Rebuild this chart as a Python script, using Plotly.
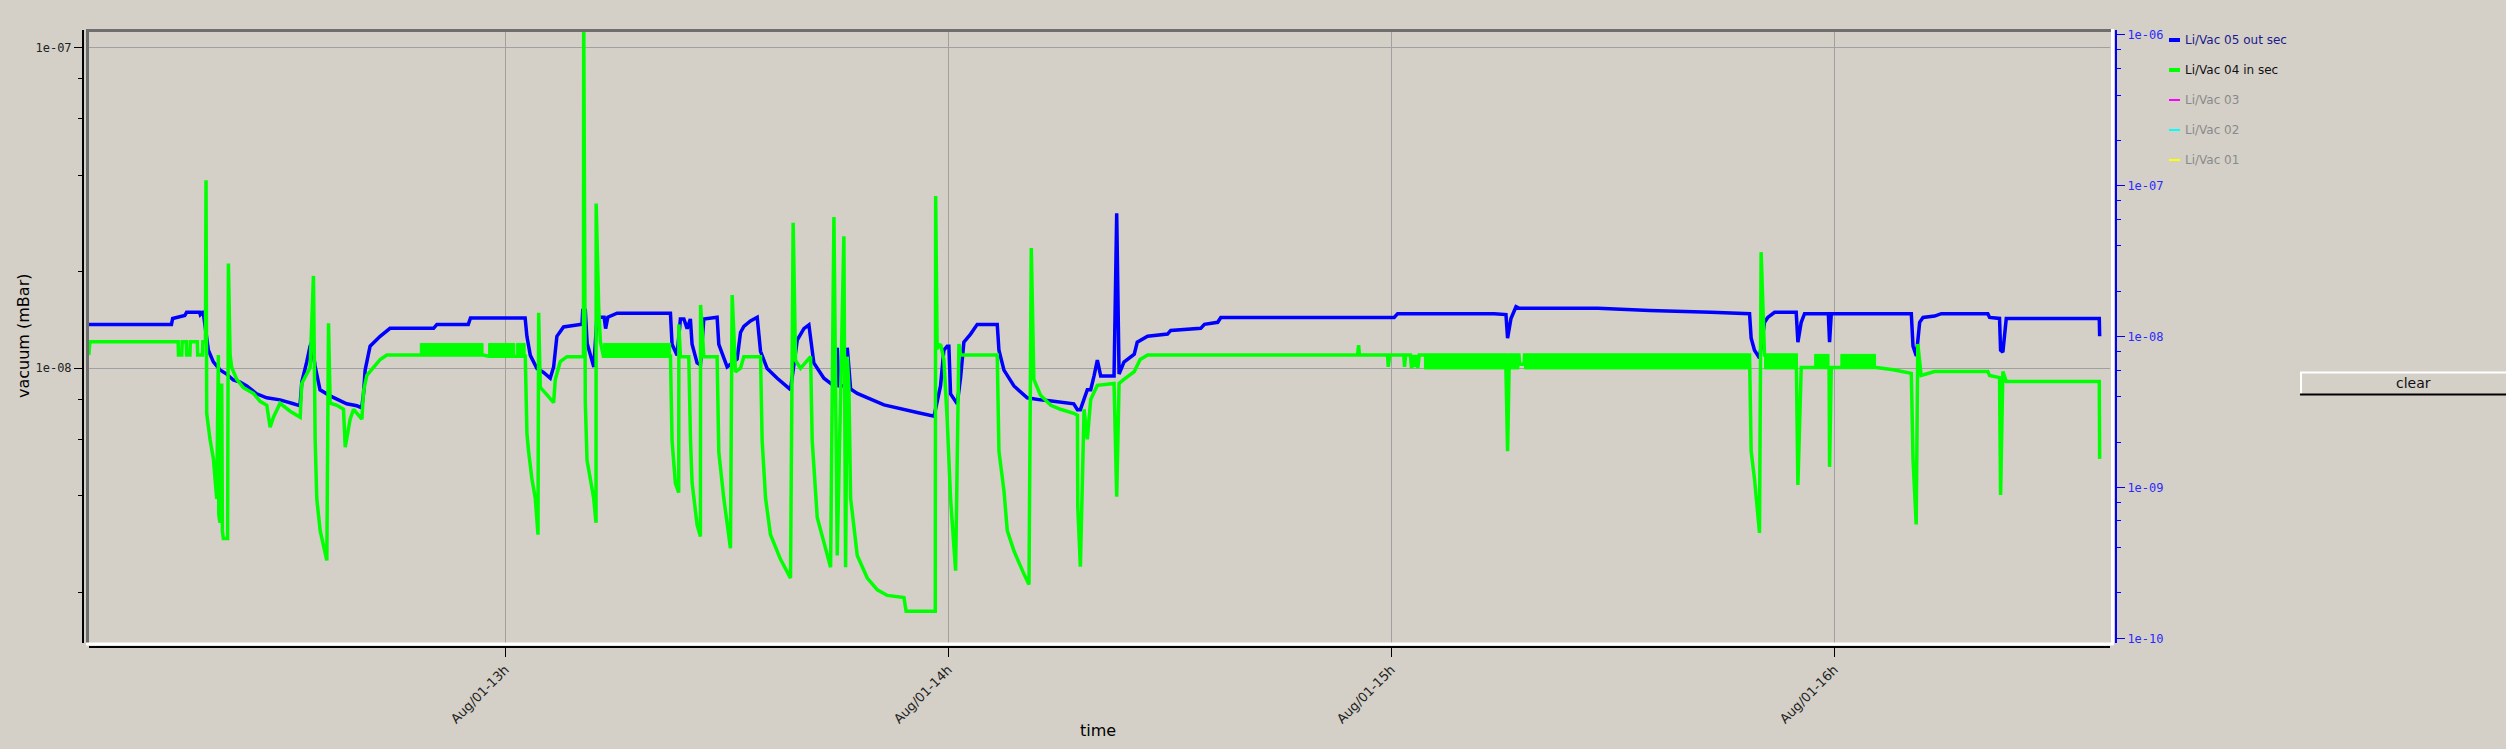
import plotly.graph_objects as go
import pandas as pd

# ---------------- data (time in minutes after 12:00, pressure in 1e-9 mbar) ----------------
base_time = "2011-08-01 12:00:00"

# Li/Vac 05 out sec (blue, right axis)
blue_pts = [
    (3.6, 12.06), (14.8, 12.06), (14.96, 13.2), (16.6, 13.8), (16.85, 14.5), (18.6, 14.5),
    (18.7, 14.0), (19.0, 14.5), (19.1, 14.5), (19.8, 8.13), (20.47, 6.8), (21.38, 6.02),
    (22.27, 5.65), (23.18, 5.16), (24.09, 5.0), (25.0, 4.71), (26.34, 4.18), (27.7, 3.93),
    (29.5, 3.81), (31.32, 3.59), (32.21, 3.48), (32.45, 5.0), (33.12, 6.8), (33.57, 8.64),
    (33.79, 9.18), (34.25, 6.38), (34.92, 4.44), (36.28, 4.05), (38.53, 3.59), (39.9, 3.48),
    (40.57, 3.38), (40.81, 4.18), (41.03, 6.0), (41.7, 8.64), (43.06, 10.05), (44.4, 11.35),
    (50.3, 11.35), (50.75, 12.06), (55.0, 12.06), (55.3, 13.3), (62.7, 13.3), (62.94, 10.05),
    (63.4, 7.52), (64.3, 6.14), (65.2, 5.79), (66.1, 5.3), (66.56, 6.3), (67.0, 10.05),
    (67.9, 11.6), (70.4, 12.1), (70.5, 14.9), (70.85, 14.9), (71.1, 9.0), (72.0, 6.3),
    (72.43, 13.45), (73.4, 13.45), (73.6, 11.3), (73.9, 13.45), (75.15, 14.3), (82.38, 14.3),
    (82.6, 8.9), (83.28, 7.52), (83.73, 13.1), (84.2, 13.1), (84.64, 11.3), (85.08, 13.1),
    (85.31, 8.9), (85.99, 6.7), (86.44, 6.5), (86.9, 13.1), (88.7, 13.45), (88.93, 8.9),
    (90.06, 6.3), (91.41, 7.1), (91.87, 10.65), (92.32, 11.7), (93.22, 12.7), (94.13, 13.45),
    (94.58, 8.0), (95.48, 6.14), (96.84, 5.3), (98.64, 4.45), (99.55, 9.48), (100.45, 11.3),
    (101.13, 11.97), (101.8, 6.7), (103.16, 5.3), (104.52, 4.72), (104.97, 8.44), (105.2, 4.72),
    (106.1, 4.72), (106.33, 8.44), (106.78, 4.5), (107.68, 4.2), (111.3, 3.53), (115.8, 3.14),
    (118.08, 2.97), (118.96, 4.71), (119.41, 8.13), (119.86, 8.64), (120.09, 8.64), (120.32, 4.17),
    (121.22, 3.59), (121.67, 5.32), (122.12, 9.18), (123.03, 10.4), (123.93, 12.06), (126.64, 12.06),
    (126.87, 8.13), (127.55, 6.0), (128.9, 4.71), (130.7, 3.93), (132.5, 3.81), (134.0, 3.75),
    (137.0, 3.59), (137.5, 3.28), (137.9, 3.28), (138.84, 4.45), (139.3, 4.45), (139.75, 5.49),
    (140.2, 7.0), (140.65, 5.49), (142.46, 5.49), (142.82, 65.8), (143.14, 5.65), (143.8, 6.78),
    (145.2, 7.65), (145.6, 9.18), (147.0, 10.05), (149.7, 10.4), (150.14, 11.0), (154.2, 11.35),
    (154.7, 12.06), (156.5, 12.45), (156.92, 13.4), (180.4, 13.4), (180.87, 14.2), (193.96, 14.2),
    (195.54, 14.0), (195.76, 9.76), (196.22, 13.2), (196.9, 15.8), (197.35, 15.4), (208.0, 15.4),
    (215.0, 14.9), (223.3, 14.5), (228.53, 14.2), (228.75, 9.76), (229.2, 8.13), (229.88, 7.2),
    (230.56, 12.45), (231.0, 13.4), (231.92, 14.5), (234.85, 14.5), (235.08, 9.18), (235.53, 12.45),
    (235.98, 14.2), (239.2, 14.2), (239.37, 9.18), (239.6, 14.2), (250.44, 14.2), (250.67, 8.64),
    (251.12, 7.44), (251.57, 12.45), (252.03, 13.4), (253.6, 13.7), (254.5, 14.2), (260.8, 14.2),
    (261.04, 13.4), (262.39, 13.2), (262.53, 8.13), (262.84, 7.9), (263.3, 13.2), (275.9, 13.2),
    (275.95, 10.05),
]

# Li/Vac 04 in sec (green, left axis)
green_pts = [
    (3.6, 11.0), (3.75, 12.1), (15.7, 12.1), (15.75, 11.0), (16.2, 11.0), (16.25, 12.1),
    (16.8, 12.1), (16.85, 11.0), (17.3, 11.0), (17.35, 12.1), (18.3, 12.1), (18.35, 11.0),
    (19.0, 11.0), (19.05, 12.1), (19.4, 12.1), (19.48, 38.5), (19.57, 7.24), (20.02, 6.01),
    (20.48, 5.22), (20.7, 4.52), (20.93, 3.92), (21.15, 11.0), (21.2, 3.5), (21.38, 3.3),
    (21.6, 8.97), (21.7, 3.1), (21.83, 2.95), (22.4, 2.95), (22.51, 21.2), (22.74, 11.0),
    (22.96, 10.06), (23.64, 9.23), (24.54, 8.7), (25.9, 8.35), (26.8, 7.89), (27.71, 7.67),
    (28.16, 6.55), (28.61, 7.04), (29.51, 7.78), (30.87, 7.35), (32.23, 7.04), (32.45, 8.97),
    (33.58, 10.06), (34.03, 19.4), (34.26, 6.0), (34.48, 3.92), (34.94, 3.12), (35.84, 2.52),
    (36.07, 13.8), (36.29, 7.78), (37.2, 7.67), (38.1, 7.45), (38.33, 5.68), (39.0, 6.94),
    (39.46, 7.45), (40.59, 6.94), (40.81, 8.48), (41.26, 9.5), (42.17, 10.06), (43.07, 10.65),
    (43.97, 11.0), (48.49, 11.0), (57.0, 11.0), (57.8, 10.9), (62.72, 10.9),
    (62.94, 6.28), (63.17, 5.5), (63.62, 4.52), (64.07, 3.94), (64.44, 3.03), (64.53, 14.9),
    (64.75, 8.72), (65.66, 8.26), (66.56, 7.82), (66.78, 9.22), (67.46, 10.5), (68.37, 10.87),
    (70.6, 10.87), (70.63, 130.0), (70.85, 7.82), (71.08, 5.18), (71.53, 4.52), (71.98, 3.94),
    (72.3, 3.3), (72.32, 32.6), (72.66, 15.5), (72.89, 12.1), (73.3, 10.9), (82.38, 10.9),
    (82.6, 5.94), (83.05, 4.39), (83.5, 4.1), (83.52, 13.7), (83.73, 10.87), (84.86, 10.87),
    (85.1, 5.94), (85.31, 4.4), (85.99, 3.25), (86.44, 2.99), (86.46, 15.75), (86.9, 10.87),
    (88.7, 10.87), (88.93, 5.48), (89.6, 3.94), (90.51, 2.75), (90.74, 16.9), (91.19, 9.74),
    (91.87, 10.0), (92.32, 10.87), (94.58, 10.87), (94.8, 5.94), (95.26, 3.94), (95.93, 3.03),
    (97.29, 2.54), (98.64, 2.22), (99.0, 28.4), (99.32, 10.57), (100.0, 10.0), (101.36, 10.87),
    (101.58, 5.94), (102.26, 3.43), (104.07, 2.4), (104.52, 29.6), (104.97, 2.61), (105.87, 25.8),
    (106.1, 2.4), (106.33, 10.87), (106.55, 8.72), (106.78, 3.94), (107.68, 2.61), (109.04, 2.22),
    (110.4, 2.04), (111.75, 1.96), (114.0, 1.93), (114.3, 1.75), (118.25, 1.75), (118.3, 34.4),
    (118.5, 11.5), (118.96, 11.9), (119.41, 10.65), (119.86, 6.94), (120.32, 3.92), (121.0, 2.34),
    (121.45, 11.9), (121.67, 11.0), (126.64, 11.0), (126.87, 5.52), (127.55, 4.15), (128.0, 3.12),
    (128.9, 2.7), (130.2, 2.3), (130.94, 2.12), (131.25, 23.7), (131.6, 9.23), (132.5, 8.24),
    (133.9, 7.67), (135.2, 7.45), (137.0, 7.24), (137.5, 7.14), (137.55, 3.7), (137.9, 2.41),
    (138.4, 7.45), (138.84, 6.01), (139.3, 8.0), (140.2, 8.85), (142.46, 8.97), (142.82, 3.98),
    (143.14, 8.97), (143.8, 9.23), (145.2, 9.77), (146.0, 10.65), (147.0, 11.0), (175.45, 11.0),
    (175.58, 11.8), (175.7, 11.0), (179.5, 11.0), (179.6, 10.1), (179.8, 11.0), (181.7, 11.0),
    (181.8, 10.1), (181.95, 11.0), (182.6, 11.0), (182.75, 10.0), (183.0, 11.0), (183.2, 10.1),
    (183.45, 11.0), (183.6, 10.0), (183.8, 11.0), (195.5, 11.0), (195.76, 5.52), (196.0, 11.0),
    (197.3, 11.0), (197.4, 10.3), (198.0, 10.3), (198.05, 11.0), (228.53, 11.0),
    (228.75, 5.52), (229.2, 4.52), (229.88, 3.07), (230.1, 23.0), (230.56, 11.0), (234.85, 11.0),
    (235.08, 4.33), (235.53, 10.06), (239.3, 10.06), (239.37, 4.93), (239.6, 10.06),
    (245.7, 10.06), (248.0, 9.9), (250.44, 9.64), (250.67, 5.22), (251.1, 3.26), (251.32, 11.9),
    (251.77, 9.5), (253.58, 9.77), (260.8, 9.77), (261.04, 9.5), (262.39, 9.35), (262.53, 4.03),
    (262.84, 9.77), (263.3, 9.1), (275.9, 9.1), (275.95, 5.22),
]

# periods where the green reading flickers quickly between two levels:
# (start min, end min, low, high) in 1e-9 mbar
green_noise_bands = [
    (48.5, 57.0, 10.95, 11.95),
    (57.75, 61.3, 10.9, 11.95),
    (61.55, 62.7, 10.9, 11.95),
    (73.3, 82.4, 10.9, 11.95),
    (184.5, 197.3, 9.95, 11.05),
    (198.05, 228.5, 9.95, 11.05),
    (230.56, 234.85, 9.95, 11.05),
    (237.35, 239.3, 10.06, 11.05),
    (240.9, 245.6, 10.06, 11.05),
]

legend_names = ["Li/Vac 05 out sec", "Li/Vac 04 in sec", "Li/Vac 03", "Li/Vac 02", "Li/Vac 01"]
legend_colors = ["#0000ff", "#00ff00", "#ff00ff", "#00ffff", "#ffff00"]
legend_text_colors = ["#1a1a8a", "#101010", "#8a8a8a", "#8a8a8a", "#8a8a8a"]
legend_swatch_widths = [4, 4, 2, 2, 2]

x_tick_times = ["2011-08-01 13:00", "2011-08-01 14:00", "2011-08-01 15:00", "2011-08-01 16:00"]
left_tickvals = [1e-8, 1e-7]
left_ticktext = ["1e-08", "1e-07"]
right_tickvals = [1e-10, 1e-9, 1e-8, 1e-7, 1e-6]
right_ticktext = ["1e-10", "1e-09", "1e-08", "1e-07", "1e-06"]
minor_multipliers = [2, 4, 6, 8]
minor_exponents = [-11, -10, -9, -8, -7, -6]

# ---------------- build ----------------
base = pd.Timestamp(base_time)


def to_time(minutes):
    return [base + pd.Timedelta(minutes=m) for m in minutes]


blue_t, blue_v = zip(*blue_pts)
green_t, green_v = zip(*green_pts)
blue_x = to_time(blue_t)
blue_y = [v * 1e-9 for v in blue_v]
green_x = to_time(green_t)
green_y = [v * 1e-9 for v in green_v]

band_x, band_y = [], []
for t0, t1, lo, hi in green_noise_bands:
    band_x += to_time([t0, t1, t1, t0, t0]) + [None]
    band_y += [lo * 1e-9, lo * 1e-9, hi * 1e-9, hi * 1e-9, lo * 1e-9, None]

minor_vals = [m * 10.0 ** e for e in minor_exponents for m in minor_multipliers]

W, H = 2506, 749
L, RGT, T, BOT = 83, 2116, 30, 647


def px(x):
    return (x - L) / (RGT - L)


def py(y):
    return (BOT - y) / (BOT - T)


BG = "#d4d0c8"

fig = go.Figure()
fig.add_trace(go.Scatter(
    x=blue_x, y=blue_y, mode="lines", name=legend_names[0], yaxis="y2",
    line=dict(color=legend_colors[0], width=3.5, simplify=False), showlegend=False,
))
fig.add_trace(go.Scatter(
    x=band_x, y=band_y, mode="lines", name=legend_names[1] + " (flicker)", yaxis="y",
    fill="toself", fillcolor=legend_colors[1], line=dict(color=legend_colors[1], width=1),
    showlegend=False, hoverinfo="skip",
))
fig.add_trace(go.Scatter(
    x=green_x, y=green_y, mode="lines", name=legend_names[1], yaxis="y",
    line=dict(color=legend_colors[1], width=3.5, simplify=False), showlegend=False,
))

x_start = base + pd.Timedelta(minutes=3.63)
x_end = base + pd.Timedelta(minutes=277.35)

fig.update_layout(
    width=W, height=H,
    margin=dict(l=L, r=W - RGT, t=T, b=H - BOT, pad=0),
    paper_bgcolor=BG, plot_bgcolor=BG,
    showlegend=False,
    font=dict(family="DejaVu Sans", size=13, color="#222222"),
    xaxis=dict(
        type="date", domain=[px(89), px(2110)], anchor="free", position=0,
        range=[x_start, x_end], tickmode="array", tickvals=x_tick_times,
        tickformat="%b/%d-%Hh", tickangle=-45,
        ticks="outside", ticklen=9, tickwidth=1, tickcolor="#000000",
        showline=True, linecolor="#000000", linewidth=2,
        showgrid=True, gridcolor="#a0a0a0", gridwidth=1, zeroline=False,
        tickfont=dict(family="DejaVu Sans", size=13, color="#222222"),
    ),
    yaxis=dict(
        type="log", domain=[py(643), 1], range=[-8.856, -6.946],
        anchor="free", position=0, overlaying="y2", side="left",
        tickmode="array", tickvals=left_tickvals, ticktext=left_ticktext,
        ticks="outside", ticklen=8, tickwidth=1, tickcolor="#000000",
        showline=True, linecolor="#000000", linewidth=2,
        showgrid=True, gridcolor="#a0a0a0", gridwidth=1, zeroline=False,
        minor=dict(tickmode="array", tickvals=minor_vals, ticks="outside", ticklen=4,
                   tickwidth=1, tickcolor="#000000", showgrid=False),
        tickfont=dict(family="DejaVu Sans Mono", size=12, color="#222222"),
    ),
    yaxis2=dict(
        type="log", domain=[py(643), 1], range=[-10.031, -5.967],
        anchor="free", position=1, side="right",
        tickmode="array", tickvals=right_tickvals, ticktext=right_ticktext,
        ticks="outside", ticklen=8, tickwidth=1, tickcolor="#0000ff",
        showline=True, linecolor="#0000ff", linewidth=2,
        showgrid=False, zeroline=False,
        minor=dict(tickmode="array", tickvals=minor_vals, ticks="outside", ticklen=4,
                   tickwidth=1, tickcolor="#0000ff", showgrid=False),
        tickfont=dict(family="DejaVu Sans Mono", size=12, color="#2a2aff"),
    ),
)

shapes = []
# sunken frame around the plotting area
shapes.append(dict(type="line", xref="paper", yref="paper", x0=px(86), x1=px(2112), y0=py(30.5), y1=py(30.5),
                   line=dict(color="#6e6e6e", width=3), layer="above"))
shapes.append(dict(type="line", xref="paper", yref="paper", x0=px(87.5), x1=px(87.5), y0=py(30), y1=py(643),
                   line=dict(color="#6e6e6e", width=3), layer="above"))
shapes.append(dict(type="line", xref="paper", yref="paper", x0=px(86), x1=px(2113), y0=py(644), y1=py(644),
                   line=dict(color="#ffffff", width=3), layer="above"))
shapes.append(dict(type="line", xref="paper", yref="paper", x0=px(2112.5), x1=px(2112.5), y0=py(29), y1=py(645),
                   line=dict(color="#ffffff", width=3), layer="above"))

# legend swatches
legend_rows = [40, 70, 100, 130, 160]
annotations = []
for name, col, tcol, sw, yrow in zip(legend_names, legend_colors, legend_text_colors,
                                     legend_swatch_widths, legend_rows):
    shapes.append(dict(type="line", xref="paper", yref="paper", x0=px(2169), x1=px(2180),
                       y0=py(yrow), y1=py(yrow), line=dict(color=col, width=sw)))
    annotations.append(dict(xref="paper", yref="paper", x=px(2183), y=py(yrow), text=name,
                            showarrow=False, xanchor="left", yanchor="middle",
                            font=dict(family="DejaVu Sans", size=12, color=tcol)))

# "clear" button
shapes.append(dict(type="rect", xref="paper", yref="paper", x0=px(2300), x1=px(2506), y0=py(395), y1=py(372),
                   fillcolor=BG, line=dict(width=0)))
shapes.append(dict(type="line", xref="paper", yref="paper", x0=px(2300), x1=px(2506), y0=py(372.5), y1=py(372.5),
                   line=dict(color="#ffffff", width=2)))
shapes.append(dict(type="line", xref="paper", yref="paper", x0=px(2301), x1=px(2301), y0=py(372), y1=py(395),
                   line=dict(color="#ffffff", width=2)))
shapes.append(dict(type="line", xref="paper", yref="paper", x0=px(2300), x1=px(2506), y0=py(394.5), y1=py(394.5),
                   line=dict(color="#000000", width=2)))
annotations.append(dict(xref="paper", yref="paper", x=px(2413), y=py(383), text="clear", showarrow=False,
                        xanchor="center", yanchor="middle",
                        font=dict(family="DejaVu Sans", size=14, color="#111111")))

# axis titles
annotations.append(dict(xref="paper", yref="paper", x=px(23), y=py(336), text="vacuum (mBar)", showarrow=False,
                        textangle=-90, xanchor="center", yanchor="middle",
                        font=dict(family="DejaVu Sans", size=16, color="#000000")))
annotations.append(dict(xref="paper", yref="paper", x=px(1098), y=py(730), text="time", showarrow=False,
                        xanchor="center", yanchor="middle",
                        font=dict(family="DejaVu Sans", size=16, color="#000000")))

fig.update_layout(shapes=shapes, annotations=annotations)

fig.write_html(
    "out.html",
    config={"displayModeBar": False},
    post_script="document.body.style.margin='0';document.body.style.background='#d4d0c8';",
)
